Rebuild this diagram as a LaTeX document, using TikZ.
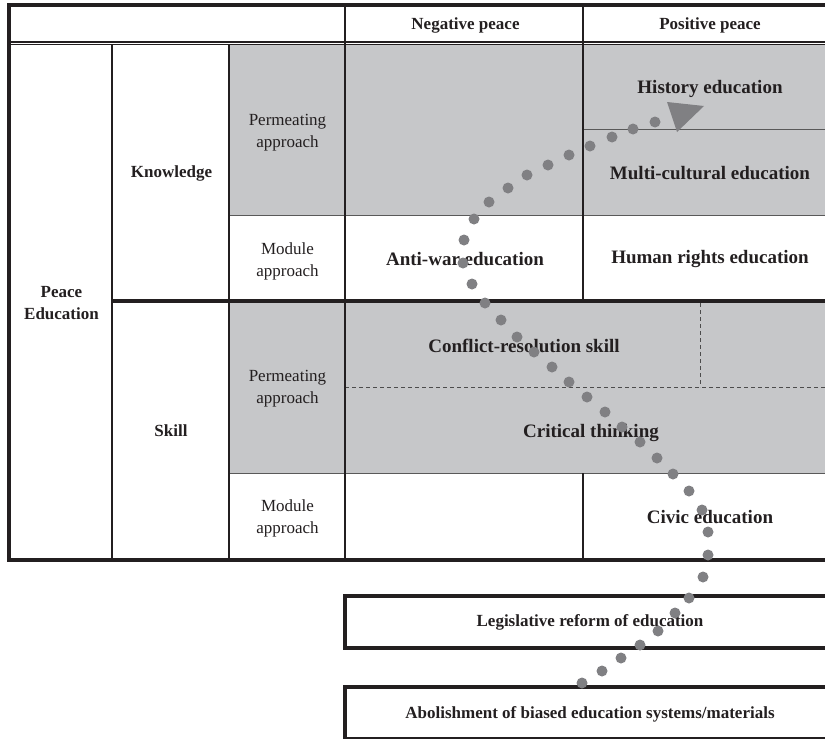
\documentclass[tikz,border=0pt]{standalone}
\usepackage{fontspec}
\setmainfont{Liberation Serif}
\usetikzlibrary{calc}
\definecolor{inkblack}{RGB}{35,31,32}
\definecolor{cellgray}{RGB}{198,199,201}
\definecolor{dotgray}{RGB}{128,128,131}
\tikzset{
  frame line/.style={
    line width=3.5pt,
    draw=inkblack
  },
  col line/.style={
    line width=2pt,
    draw=inkblack
  },
  split line/.style={
    line width=1pt,
    draw=black!65
  },
  dash line/.style={
    line width=0.9pt,
    draw=black!70,
    dash pattern=on 4pt off 3pt
  },
  small label/.style={
    font=\fontsize{17}{22}\selectfont,
    text=inkblack,
    align=center,
    inner sep=0pt,
    yshift=-1.5pt
  },
  head label/.style={
    small label,
    font=\fontsize{17}{22}\selectfont\bfseries
  },
  big label/.style={
    font=\fontsize{19}{23}\selectfont\bfseries,
    text=inkblack,
    inner sep=0pt,
    yshift=-1.5pt
  },
  path dot/.style={
    fill=dotgray
  }
}

\begin{document}
\begin{tikzpicture}[x=1pt, y=-1pt]

  \useasboundingbox (0,0) rectangle (825,739);
  \clip (0,0) rectangle (825,739);

  %% ---- grey rows (permeating approach) ----
  \fill[cellgray] (229,45) rectangle (830,215);
  \fill[cellgray] (229,303) rectangle (830,473);

  % thin separators inside the grid
  \draw[split line] (229,215) -- (830,215);
  \draw[split line] (229,473) -- (830,473);
  \draw[split line] (583,129) -- (830,129);

  % dashed split of the skill row
  \draw[dash line] (345,387) -- (830,387);
  \draw[dash line] (700.5,303) -- (700.5,387);

  %% ---- column lines ----
  \draw[col line] (112,45) -- (112,560);
  \draw[col line] (229,45) -- (229,560);
  \draw[col line] (345,5) -- (345,560);
  \draw[col line] (583,5) -- (583,301);
  \draw[col line] (583,473) -- (583,560);

  %% ---- outer frame and row rules ----
  \draw[frame line] (830,5) -- (9,5) -- (9,560) -- (830,560);
  \draw[line width=2.4pt, inkblack] (9,41.8) -- (830,41.8);
  \draw[line width=1.2pt, inkblack] (9,44.6) -- (830,44.6);
  \draw[frame line] (112,301) -- (830,301);

  %% ---- boxes below the table ----
  \draw[frame line] (830,596) -- (345,596) -- (345,648) -- (830,648);
  \draw[frame line] (830,687) -- (345,687) -- (345,739) -- (830,739);

  %% ---- headers ----
  \node[head label] (neg)   at (465.5,24)  {Negative peace};
  \node[head label] (pos)   at (710,24)    {Positive peace};
  \node[head label] (peace) at (61.5,302)  {Peace\\Education};
  \node[head label] (know)  at (171.5,172) {Knowledge};
  \node[head label] (skill) at (171,429)   {Skill};

  \node[small label] (kperm) at (287.5,131)   {Permeating\\approach};
  \node[small label] (kmod)  at (287.5,259.5) {Module\\approach};
  \node[small label] (sperm) at (287.5,387.5) {Permeating\\approach};
  \node[small label] (smod)  at (287.5,517)   {Module\\approach};

  %% ---- contents ----
  \node[big label] (hist)   at (710,87)  {History education};
  \node[big label] (multi)  at (710,172) {Multi-cultural education};
  \node[big label] (antiwar) at (465,258) {Anti-war education};
  \node[big label] (human)  at (710,258) {Human rights education};
  \node[big label] (conf)   at (524,344) {Conflict-resolution skill};
  \node[big label] (crit)   at (591,431) {Critical thinking};
  \node[big label] (civic)  at (710,516) {Civic education};

  \node[head label] (legis) at (590,621) {Legislative reform of education};
  \node[head label] (abol)  at (590,713) {Abolishment of biased education systems/materials};

  %% ---- dotted path with arrowhead ----
  \foreach \p in {(582,683),(602,671),(621,658),(640,645),(658,631),(675,613),
                  (689,598),(703,577),(708,555),(708,532),(702,510),(689,491),
                  (673,474),(657,458),(640,442),(622,427),(605,412),(587,397),
                  (569,382),(552,367),(534,352),(517,337),(501,320),(485,303),
                  (472,284),(463,263),(464,240),(474,219),(489,202),(508,188),
                  (527,175),(548,165),(569,155),(590,146),(612,137),(633,129),
                  (655,122)}
    \fill[path dot] \p circle[radius=5.5];
  \fill[path dot] (667,102) -- (704,106) -- (677,132) -- cycle;

\end{tikzpicture}
\end{document}
